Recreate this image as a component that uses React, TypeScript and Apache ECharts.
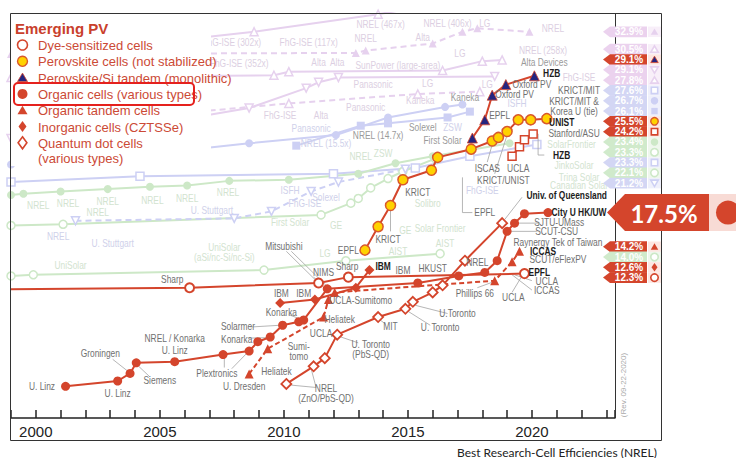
import React, { useEffect, useRef } from 'react';
import * as echarts from 'echarts';

const RED = '#d4452c';
const SANS = "'Liberation Sans', Arial, sans-serif";

const YEAR_MIN = 1999;
const YEAR_MAX = 2023.35;
const EFF_MAX = 34.5;
const yearLabels = [2000, 2005, 2010, 2015, 2020];

// Emerging PV records, [year, efficiency %]
const organicCells = [
  [2001.2, 2.7], [2003.3, 3.15], [2003.8, 3.8], [2004.05, 4.7], [2005.6, 4.8], [2007.55, 5.4],
  [2008.6, 5.7], [2008.95, 6.5], [2009.45, 6.9], [2009.95, 7.9], [2010.6, 8.2], [2010.8, 8.35],
  [2011.75, 11.0], [2015.4, 11.5], [2017.05, 12.1], [2018.1, 12.4], [2018.6, 13.4],
  [2019.0, 15.9], [2019.3, 16.6], [2019.7, 17.4], [2020.65, 17.5],
];
const organicTandem = [
  [2008.6, 3.75], [2009.35, 5.9], [2011.6, 8.6], [2011.8, 10.1], [2012.05, 10.7],
  [2018.5, 11.7], [2019.2, 13.3], [2019.5, 14.2],
];
const dyeSensitized = [[1996, 10.9], [2006.2, 11.1], [2011.4, 11.5], [2012.6, 12.0], [2019.7, 12.3]];
const perovskite = [
  [2013.27, 14.3], [2013.8, 16.3], [2014.3, 18.1], [2014.8, 20.3], [2015.95, 21.1], [2016.2, 22.2],
  [2017.55, 22.9], [2018.4, 23.6], [2018.65, 23.9], [2019.0, 24.4], [2019.45, 25.4], [2019.95, 25.4],
  [2020.6, 25.5],
];
const perovskiteSiTandem = [[2017.6, 23.85], [2018.1, 25.4], [2018.4, 27.5], [2018.95, 28.4], [2020.1, 29.15]];
const perovskiteCigsTandem = [[2019.2, 22.3], [2019.5, 23.1], [2019.7, 23.7], [2020.05, 24.2]];
const inorganicCztsse = [[2009.85, 9.8], [2011.25, 10.1], [2012.9, 11.1], [2013.45, 12.6]];
const quantumDot = [
  [2010.1, 2.9], [2011.2, 4.4], [2011.65, 5.1], [2012.15, 7.1], [2013.8, 8.6], [2014.9, 9.3],
  [2015.2, 9.9], [2016.0, 10.7], [2016.4, 11.3], [2017.3, 13.4], [2018.8, 16.6],
];

// Established technologies drawn behind the emerging records
const mjConcentrator = [[2004.5, 31.9], [2008.8, 32.9], [2013.8, 34.4], [2016, 35.2]];
const mjThreeJunction = [[1999, 31.0], [2012.9, 31.1], [2013.3, 31.3], [2016.0, 31.9], [2017.2, 32.9], [2017.8, 33.2], [2019.9, 32.9]];
const mjTwoJunction = [[1999, 29.0], [2009.6, 29.2], [2010.2, 29.5], [2016.4, 29.6], [2018.0, 30.4], [2018.8, 30.5]];
const gaAsSingle = [[1999, 23.8], [2005, 25.1], [2008.6, 26.4], [2010.9, 28.1], [2011.4, 28.6], [2012.2, 29.0], [2018.5, 29.1]];
const gaAsThinFilm = [[2005, 25.8], [2010.2, 26.8], [2015.4, 27.6], [2017.9, 27.8]];
const siSingleCrystal = [[1999, 21.6], [2006, 22.8], [2008.6, 23.4], [2012.1, 24.1], [2014.2, 25.6], [2016.5, 26.5], [2017.2, 26.7]];
const siHeterostructure = [[2010.5, 23.2], [2013.1, 24.9], [2014.2, 25.1], [2016.6, 25.6], [2017.5, 26.1]];
const siMulticrystal = [[1999, 20.1], [2004.2, 20.6], [2012, 20.8], [2015.3, 21.3], [2017.5, 22.3], [2020.2, 23.3]];
const cigs = [[1999, 19.0], [1999.5, 19.1], [2001, 19.3], [2002.9, 19.5], [2004.6, 19.7], [2006.1, 19.8], [2007.8, 20.2], [2010.2, 20.3], [2013, 20.8], [2014.5, 21.7], [2016, 22.3], [2019.1, 23.4]];
const cdte = [[1999, 16.4], [2001.1, 16.5], [2011.5, 17.3], [2012.7, 18.3], [2013.0, 18.7], [2013.5, 19.6], [2014.2, 20.4], [2014.8, 21.0], [2016.1, 22.1]];
const thinFilmCrystal = [[2001.6, 16.8], [2008, 17.0], [2009.5, 17.6], [2011.1, 19.3], [2012.2, 20.1], [2014.9, 21.2]];
const amorphousSi = [[1999, 12.1], [1999.9, 12.2], [2009.2, 12.6], [2012.5, 13.4], [2016.3, 14.0]];

// Record labels along the right edge: [efficiency %, family, marker]
const recordLabels: [number, string, string][] = [
  [32.9, 'mj', 'triangle'], [30.5, 'mj', 'hollowTriangle'], [29.1, 'emerging', 'navyTriangle'],
  [29.1, 'mj', 'hollowInvTriangle'], [27.8, 'mj', 'hollowTriangle'], [27.6, 'si', 'hollowSquare'],
  [26.7, 'si', 'circle'], [26.1, 'si', 'square'], [25.5, 'emerging', 'yellowCircle'],
  [24.2, 'emerging', 'hollowSquare'], [23.4, 'tf', 'circle'], [23.3, 'tf', 'hollowCircle'],
  [23.3, 'si', 'hollowSquare'], [22.1, 'tf', 'hollowCircle'], [21.2, 'si', 'hollowInvTriangle'],
  [14.2, 'emerging', 'triangle'], [14.0, 'tf', 'hollowCircle'], [12.6, 'emerging', 'diamond'],
  [12.3, 'emerging', 'hollowCircle'],
];
const organicRecord = 17.5;

const legendTitle = 'Emerging PV';
const legendItems: [string, string][] = [
  ['Dye-sensitized cells', 'hollowCircle'],
  ['Perovskite cells (not stabilized)', 'yellowCircle'],
  ['Perovskite/Si tandem (monolithic)', 'navyTriangle'],
  ['Organic cells (various types)', 'circle'],
  ['Organic tandem cells', 'triangle'],
  ['Inorganic cells (CZTSSe)', 'diamond'],
  ['Quantum dot cells\n(various types)', 'hollowDiamond'],
];

// Institution names: [text, year, efficiency]
const groupNotes: [string, number, number][] = [
  ['U. Linz', 2000.25, 2.7], ['U. Linz', 2003.3, 2.1], ['Groningen', 2002.6, 5.5], ['Siemens', 2005.0, 3.2],
  ['NREL / Konarka', 2005.6, 6.8], ['U. Linz', 2005.6, 5.8], ['Plextronics', 2007.3, 3.8],
  ['Solarmer', 2008.15, 7.8], ['Konarka', 2008.1, 6.7], ['U. Dresden', 2008.4, 2.7],
  ['Heliatek', 2009.7, 4.0], ['Sumi-\ntomo', 2010.6, 5.7], ['UCLA', 2011.5, 7.2], ['Heliatek', 2012.25, 8.4],
  ['Konarka', 2009.9, 9.0], ['IBM', 2009.9, 10.6], ['IBM', 2010.8, 10.6], ['UCLA-Sumitomo', 2013.1, 10.0],
  ['NIMS', 2011.6, 12.4], ['Mitsubishi', 2010.0, 14.6], ['Sharp', 2012.55, 12.9], ['IBM', 2014.8, 12.6],
  ['HKUST', 2016.0, 12.8], ['EPFL', 2012.6, 14.3], ['KRICT', 2014.2, 15.2], ['KRICT', 2015.4, 19.25],
  ['ISCAS', 2018.2, 21.3], ['KRICT/UNIST', 2018.85, 20.3], ['EPFL', 2018.1, 17.5],
  ['EPFL', 2018.7, 25.8], ['Oxford PV', 2019.3, 27.6], ['Oxford PV', 2020.0, 28.4],
  ['KRICT/MIT', 2021.9, 27.9], ['KRICT/MIT &', 2021.7, 27.0], ['Korea U (tie)', 2021.7, 26.1],
  ['Stanford/ASU', 2021.7, 24.3], ['UCLA', 2019.45, 21.3], ['SJTU-UMass', 2021.1, 16.7],
  ['SCUT-CSU', 2021.0, 15.9], ['Raynergy Tek of Taiwan', 2021.05, 15.0], ['SCUT/eFlexPV', 2021.05, 13.5],
  ['UCLA', 2020.6, 11.7], ['ICCAS', 2020.6, 10.9], ['UCLA', 2019.25, 10.3], ['Phillips 66', 2017.7, 10.65],
  ['NREL', 2017.8, 13.3], ['U.Toronto', 2017.0, 8.9], ['U. Toronto', 2016.3, 7.7], ['MIT', 2014.3, 7.8],
  ['U. Toronto\n(PbS-QD)', 2013.5, 5.9], ['NREL\n(ZnO/PbS-QD)', 2011.7, 2.1], ['Sharp', 2005.5, 11.85],
];
const keyNotes: [string, number, number][] = [
  ['IBM', 2014.0, 12.95], ['UNIST', 2021.2, 25.2], ['HZB', 2020.8, 29.4], ['HZB', 2021.2, 22.4],
  ['Univ. of Queensland', 2021.4, 19.0], ['City U HK/UW', 2021.9, 17.55], ['ICCAS', 2020.45, 14.2],
  ['EPFL', 2020.3, 12.4],
];
const midNotes: [string, number, number][] = [
  ['First Solar', 2016.4, 23.7], ['Solexel', 2015.6, 24.8], ['NREL (14.7x)', 2013.8, 24.1],
  ['Kaneka', 2017.3, 27.35], ['Alta Devices', 2020.5, 30.3],
];
const fadedNotes: [string, number, number, string][] = [
  ['NREL (467x)', 2013.9, 33.55, 'mj'], ['NREL (406x)', 2016.6, 33.65, 'mj'], ['LG', 2018.1, 33.65, 'mj'],
  ['FhG-ISE (117x)', 2011.0, 32.0, 'mj'], ['FhG-ISE (302x)', 2007.9, 32.0, 'mj'], ['NREL', 2013.3, 32.4, 'mj'],
  ['Alta', 2015.6, 32.45, 'mj'], ['FhG-ISE (352x)', 2008.2, 30.2, 'mj'], ['Alta', 2011.4, 30.3, 'mj'],
  ['Alta', 2012.15, 30.3, 'mj'], ['SunPower (large-area)', 2014.6, 30.07, 'mj'], ['LG', 2017.1, 31.1, 'mj'],
  ['Panasonic', 2013.6, 28.4, 'mj'], ['LG', 2015.8, 28.5, 'mj'], ['LG', 2018.2, 28.4, 'mj'],
  ['Kaneka', 2015.5, 27.1, 'mj'], ['FhG-ISE', 2009.85, 25.8, 'mj'], ['Alta', 2011.5, 25.8, 'mj'],
  ['Panasonic', 2013.3, 26.5, 'mj'], ['Panasonic', 2011.1, 24.7, 'si'], ['ZSW', 2016.8, 24.8, 'si'],
  ['NREL (15.5x)', 2011.7, 23.4, 'si'], ['ZSW', 2014.0, 22.6, 'tf'], ['NREL', 2013.1, 22.3, 'tf'],
  ['ISFH', 2010.25, 19.4, 'si'], ['FhG-ISE', 2010.85, 18.3, 'si'], ['Solexel', 2011.7, 18.8, 'si'],
  ['First Solar', 2010.25, 16.7, 'tf'], ['GE', 2012.1, 16.4, 'tf'], ['GE', 2014.9, 16.0, 'tf'],
  ['Solibro', 2015.8, 18.3, 'tf'], ['Solar Frontier', 2016.3, 16.2, 'tf'], ['FhG-ISE', 2018.0, 19.4, 'si'],
  ['JinkoSolar', 2021.7, 21.5, 'tf'], ['Trina Solar', 2021.9, 20.5, 'tf'], ['Canadian Solar', 2021.9, 19.8, 'tf'],
  ['SolarFrontier', 2021.6, 23.3, 'tf'], ['ISFH', 2019.4, 26.8, 'si'], ['FhG-ISE', 2021.9, 29.0, 'mj'],
  ['NREL (258x)', 2020.45, 31.35, 'mj'], ['NREL', 2020.85, 33.2, 'mj'],
  ['NREL', 2000.1, 18.1, 'tf'], ['NREL', 2001.3, 18.3, 'tf'], ['NREL', 2002.9, 18.5, 'tf'],
  ['NREL', 2004.7, 18.6, 'tf'], ['NREL', 2006.1, 18.7, 'tf'], ['NREL', 2007.75, 19.2, 'tf'],
  ['U. Stuttgart', 2007.1, 17.7, 'si'], ['NREL', 2000.9, 15.5, 'si'], ['NREL', 2002.5, 17.5, 'tf'],
  ['U. Stuttgart', 2003.1, 14.9, 'si'], ['UniSolar', 2001.4, 13.0, 'tf'],
  ['UniSolar\n(aSi/nc-Si/nc-Si)', 2007.6, 14.1, 'tf'], ['LG', 2011.66, 14.05, 'tf'],
  ['AIST', 2014.6, 14.2, 'tf'], ['AIST', 2016.5, 14.9, 'tf'],
];

// Leader lines from names to their records
const leaderLines: number[][][] = [
  [[2003.1, 5.0], [2003.7, 4.0]], [[2004.6, 3.5], [2004.15, 4.4]], [[2007.6, 4.3], [2007.6, 5.1]],
  [[2007.9, 4.2], [2008.5, 5.5]], [[2008.65, 7.75], [2009.85, 7.9]], [[2008.55, 6.8], [2009.4, 6.85]],
  [[2010.2, 8.8], [2010.7, 8.4]], [[2010.3, 14.2], [2011.7, 11.3]], [[2010.1, 14.2], [2011.35, 11.6]],
  [[2013.0, 6.4], [2012.3, 6.9]], [[2011.3, 2.6], [2010.3, 2.8]], [[2011.3, 2.6], [2011.1, 4.2]],
  [[2014.1, 8.0], [2013.85, 8.4]], [[2016.6, 8.9], [2015.3, 9.6]], [[2015.9, 7.9], [2015.0, 9.1]],
  [[2017.8, 11.1], [2018.45, 11.6]], [[2019.2, 10.7], [2019.6, 12.1]], [[2020.0, 11.7], [2019.3, 12.2]],
  [[2020.0, 10.9], [2019.2, 12.2]], [[2017.2, 20.5], [2017.2, 17.5], [2017.6, 17.5]],
  [[2014.3, 15.9], [2014.3, 17.8]], [[2018.2, 21.8], [2018.4, 23.3]], [[2018.5, 20.8], [2019.0, 24.1]],
  [[2019.6, 18.8], [2018.9, 16.9]], [[2020.1, 24.2], [2020.25, 24.2], [2020.25, 22.4], [2020.5, 22.4]],
  [[2020.3, 16.6], [2019.4, 16.6]], [[2020.2, 15.9], [2019.1, 15.9]], [[2011.2, 12.0], [2011.4, 11.6]],
];

const FAMILY: Record<string, { bg: string; box: string; mark: string; text: string }> = {
  emerging: { bg: RED, box: '#fde6e1', mark: RED, text: '#8a8a8a' },
  mj: { bg: '#ebd2ee', box: '#f8eff9', mark: '#e6d1ee', text: '#dccfe2' },
  si: { bg: '#d3d6f4', box: '#eff0fb', mark: '#cdd0f4', text: '#cfd1ea' },
  tf: { bg: '#d0eacb', box: '#eff7ed', mark: '#cde8c7', text: '#d2e3cf' },
};

function marker(kind: string, cx: number, cy: number, s: number, color: string, z: number): any {
  const h = s / 2;
  const hollow = kind.startsWith('hollow');
  const base = hollow ? kind.slice(6).toLowerCase() : kind;
  let fill = hollow ? '#fff' : color;
  let stroke = color;
  let lw = hollow ? 1.6 : 0;
  if (kind === 'yellowCircle') { fill = '#ffd200'; stroke = '#d9582b'; lw = 1.4; }
  if (kind === 'navyTriangle') { fill = '#25257f'; stroke = RED; lw = 0.8; }
  const style = { fill, stroke, lineWidth: lw };
  if (base === 'circle' || kind === 'yellowCircle') return { type: 'circle', z, shape: { cx, cy, r: h }, style };
  if (base === 'square') return { type: 'rect', z, shape: { x: cx - h * 0.85, y: cy - h * 0.85, width: s * 0.85, height: s * 0.85 }, style };
  if (base === 'diamond') return { type: 'polygon', z, shape: { points: [[cx, cy - h - 0.5], [cx + h * 0.8, cy], [cx, cy + h + 0.5], [cx - h * 0.8, cy]] }, style };
  if (base === 'invtriangle') return { type: 'polygon', z, shape: { points: [[cx - h, cy - h * 0.8], [cx + h, cy - h * 0.8], [cx, cy + h * 0.9]] }, style };
  return { type: 'polygon', z, shape: { points: [[cx, cy - h * 0.9], [cx + h, cy + h * 0.8], [cx - h, cy + h * 0.8]] }, style };
}

function bgLine(data: number[][], color: string, symbol: string, hollow: boolean, dashed = false, rotate = 0) {
  return {
    type: 'line', data, z: 1, silent: true, symbol, symbolSize: 8, symbolRotate: rotate,
    lineStyle: { color, width: 2, type: dashed ? [6, 4] : 'solid' },
    itemStyle: hollow ? { color: '#fff', borderColor: color, borderWidth: 1.5 } : { color, borderColor: color, borderWidth: 0 },
  };
}

function recordLine(data: number[][], symbol: string, size: number, item: any, dashed = false) {
  return {
    type: 'line', data, z: 4, silent: true, symbol, symbolSize: size,
    lineStyle: { color: RED, width: 2, type: dashed ? [5, 3] : 'solid' },
    itemStyle: item,
  };
}

export default function App() {
  const ref = useRef<HTMLDivElement>(null);

  useEffect(() => {
    document.body.style.margin = '0';
    const chart = echarts.init(ref.current!, undefined, { renderer: 'svg' });
    const mjC = FAMILY.mj.mark, siC = FAMILY.si.mark, tfC = FAMILY.tf.mark;

    chart.setOption({
      animation: false,
      grid: { left: 11, right: 121, top: 13, bottom: 40 },
      xAxis: {
        type: 'value', min: YEAR_MIN, max: YEAR_MAX, interval: 1,
        axisLine: { lineStyle: { color: '#222', width: 1.5 } },
        axisTick: { inside: true, length: 8, lineStyle: { color: '#222', width: 1.5 } },
        axisLabel: {
          formatter: (v: number) => (yearLabels.includes(Math.round(v)) && Math.abs(v - Math.round(v)) < 1e-6 ? String(Math.round(v)) : ''),
          color: '#222', fontSize: 15, fontFamily: SANS, margin: 6,
        },
        splitLine: { show: false },
      },
      yAxis: { type: 'value', min: 0, max: EFF_MAX, show: false, splitLine: { show: false } },
      series: [
        bgLine(mjConcentrator, mjC, 'triangle', true),
        bgLine(mjThreeJunction, mjC, 'triangle', false, true),
        bgLine(mjTwoJunction, mjC, 'triangle', true),
        bgLine(gaAsSingle, mjC, 'triangle', true, false, 180),
        bgLine(gaAsThinFilm, mjC, 'triangle', true, true),
        bgLine(siSingleCrystal, siC, 'circle', false),
        bgLine(siHeterostructure, siC, 'rect', false),
        bgLine(siMulticrystal, siC, 'rect', true),
        bgLine(cigs, tfC, 'circle', false),
        bgLine(cdte, tfC, 'circle', true),
        bgLine(thinFilmCrystal, siC, 'triangle', true, true, 180),
        bgLine(amorphousSi, tfC, 'circle', true),
        {
          type: 'lines', coordinateSystem: 'cartesian2d', polyline: true, z: 3, silent: true,
          data: leaderLines.map((c) => ({ coords: c })),
          lineStyle: { color: '#a3a3a3', width: 0.8, opacity: 1 },
        },
        recordLine(dyeSensitized, 'circle', 9, { color: '#fff', borderColor: RED, borderWidth: 2 }),
        recordLine(organicCells, 'circle', 9, { color: RED }),
        recordLine(organicTandem, 'triangle', 9, { color: RED }, true),
        recordLine(inorganicCztsse, 'diamond', 10, { color: RED }),
        recordLine(quantumDot, 'diamond', 10, { color: '#fff', borderColor: RED, borderWidth: 1.8 }),
        recordLine(perovskite, 'circle', 10, { color: '#ffd200', borderColor: '#d9582b', borderWidth: 1.5 }),
        recordLine(perovskiteSiTandem, 'triangle', 10, { color: '#25257f', borderColor: RED, borderWidth: 0.8 }),
        recordLine(perovskiteCigsTandem, 'rect', 8, { color: '#fff', borderColor: RED, borderWidth: 1.5 }),
      ],
    });

    const toPx = (x: number, y: number) => chart.convertToPixel({ gridIndex: 0 } as any, [x, y]) as number[];
    const gridRight = toPx(YEAR_MAX, 0)[0];
    const gridBottom = toPx(YEAR_MAX, 0)[1];
    const gridTop = toPx(YEAR_MAX, EFF_MAX)[1];
    const gridLeft = toPx(YEAR_MIN, 0)[0];

    const g: any[] = [];

    // narrow institution names, placed through the chart's own scales
    const noteText = (t: string, x: number, y: number, fill: string, bold: boolean, z: number) => {
      const [px, py] = toPx(x, y);
      return {
        type: 'text', z, x: px, y: py, scaleX: 0.8, silent: true,
        style: {
          text: t, fill, font: `${bold ? 'bold ' : ''}10.5px ${SANS}`, lineHeight: 10,
          align: 'center', textAlign: 'center', verticalAlign: 'middle', textVerticalAlign: 'middle',
        },
      };
    };
    fadedNotes.forEach(([t, x, y, f]) => g.push(noteText(t, x, y, FAMILY[f].text, false, 2)));
    midNotes.forEach(([t, x, y]) => g.push(noteText(t, x, y, '#9a9a9a', false, 5)));
    groupNotes.forEach(([t, x, y]) => g.push(noteText(t, x, y, '#707070', false, 5)));
    keyNotes.forEach(([t, x, y]) => g.push(noteText(t, x, y, '#1c1c1c', true, 5)));

    // frame
    g.push({ type: 'rect', z: 20, shape: { x: gridLeft - 0.5, y: gridTop + 0.5, width: 651, height: 427 }, style: { fill: 'none', stroke: '#333', lineWidth: 1 } });
    g.push({ type: 'line', z: 20, shape: { x1: gridRight + 0.5, y1: gridTop, x2: gridRight + 0.5, y2: gridBottom }, style: { stroke: '#333', lineWidth: 1 } });

    // stacked record labels on the right edge
    const GAP = 10.3;
    const rows = recordLabels.map(([v, f, m]) => ({ v, f, m, ideal: toPx(2020, v)[1] }));
    rows.sort((a, b) => a.ideal - b.ideal);
    const clusters: { items: typeof rows; sum: number }[] = [];
    const top = (c: { items: typeof rows; sum: number }) => c.sum / c.items.length - ((c.items.length - 1) * GAP) / 2;
    for (const r of rows) {
      clusters.push({ items: [r], sum: r.ideal });
      while (clusters.length > 1) {
        const c = clusters[clusters.length - 1];
        const p = clusters[clusters.length - 2];
        const pBottom = top(p) + (p.items.length - 1) * GAP;
        if (top(c) - pBottom < GAP) {
          p.items.push(...c.items);
          p.sum += c.sum;
          clusters.pop();
        } else break;
      }
    }
    const tipX = gridRight - 12;
    for (const c of clusters) {
      const t0 = top(c);
      c.items.forEach((r, i) => {
        const y = t0 + i * GAP;
        const fam = FAMILY[r.f];
        g.push({ type: 'rect', z: 21, shape: { x: 648, y: y - 5.2, width: 13, height: 10.4 }, style: { fill: fam.box } });
        g.push({
          type: 'polygon', z: 21,
          shape: { points: [[tipX, y], [tipX + 7, y - 5.4], [647, y - 5.4], [647, y + 5.4], [tipX + 7, y + 5.4]] },
          style: { fill: fam.bg },
        });
        g.push({
          type: 'text', z: 22, x: 629, y,
          style: { text: r.v.toFixed(1) + '%', fill: '#fff', font: `bold 10px ${SANS}`, align: 'center', textAlign: 'center', verticalAlign: 'middle', textVerticalAlign: 'middle' },
        });
        g.push(marker(r.m, 654.5, y, 7.5, r.f === 'emerging' ? RED : fam.mark, 22));
      });
    }

    // organic record callout
    const cy = toPx(YEAR_MAX, organicRecord)[1];
    g.push({ type: 'rect', z: 23, shape: { x: 709, y: cy - 18.5, width: 27, height: 37 }, style: { fill: '#f8dbd5' } });
    g.push({
      type: 'polygon', z: 23,
      shape: { points: [[607, cy], [625, cy - 18.5], [709, cy - 18.5], [709, cy + 18.5], [625, cy + 18.5]] },
      style: { fill: RED },
    });
    g.push({
      type: 'text', z: 24, x: 664, y: cy + 1,
      style: { text: organicRecord.toFixed(1) + '%', fill: '#fff', font: "bold 24px Lato, 'Open Sans', sans-serif", align: 'center', textAlign: 'center', verticalAlign: 'middle', textVerticalAlign: 'middle' },
    });
    g.push({ type: 'circle', z: 24, shape: { cx: 728, cy, r: 12 }, style: { fill: RED } });

    // legend
    g.push({ type: 'rect', z: 15, shape: { x: 11, y: 14, width: 200, height: 152 }, style: { fill: '#fff' } });
    g.push({
      type: 'text', z: 16, x: 15, y: 28,
      style: { text: legendTitle, fill: '#c9402c', font: `bold 15px ${SANS}`, verticalAlign: 'middle', textVerticalAlign: 'middle' },
    });
    legendItems.forEach(([label, kind], i) => {
      const y = 45 + i * 16.3;
      g.push(marker(kind, 22.5, y, kind.includes('Diamond') ? 11 : 10, RED, 16));
      g.push({
        type: 'text', z: 16, x: 38, y: y - 7,
        style: { text: label, fill: '#cc4a36', font: `13px ${SANS}`, lineHeight: 15, verticalAlign: 'top', textVerticalAlign: 'top' },
      });
    });
    g.push({ type: 'rect', z: 17, shape: { x: 14, y: 83, width: 180, height: 22, r: 4 }, style: { fill: 'none', stroke: '#e5211d', lineWidth: 2 } });

    // caption and revision date
    g.push({
      type: 'text', z: 20, x: 457, y: 452,
      style: { text: 'Best Research-Cell Efficiencies (NREL)', fill: '#222', font: "12px Lato, 'Open Sans', sans-serif", verticalAlign: 'middle', textVerticalAlign: 'middle' },
    });
    g.push({
      type: 'text', z: 20, x: 623, y: 385, rotation: Math.PI / 2,
      style: { text: '(Rev. 09-22-2020)', fill: '#aaa', font: `8px ${SANS}`, align: 'center', textAlign: 'center', verticalAlign: 'middle', textVerticalAlign: 'middle' },
    });

    chart.setOption({ graphic: g });
    return () => chart.dispose();
  }, []);

  return <div ref={ref} style={{ width: 736, height: 458 }} />;
}
